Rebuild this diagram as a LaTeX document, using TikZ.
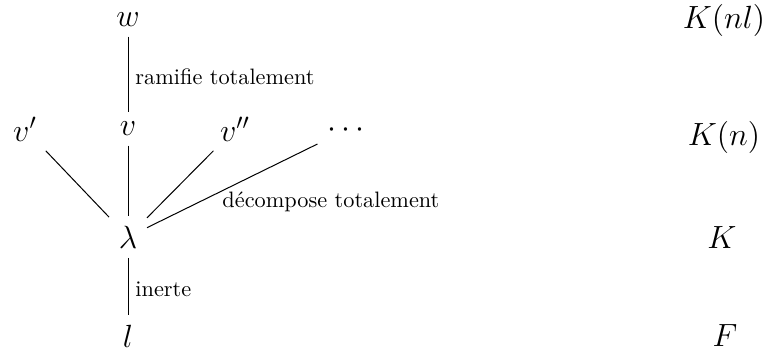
\documentclass[tikz,border=0pt]{standalone}
\begin{document}
\begin{tikzpicture}[x=0.4484pt,y=-0.4484pt,
  obj/.style={font=\Large,inner sep=4.2pt},
  lab/.style={font=\normalsize,inner sep=0pt,anchor=west},
  edge/.style={line width=0.45pt}]
\useasboundingbox (0,0) rectangle (764,351);
\node[obj] (w) at (128,20) {$w$};
\node[obj] (v1) at (25,129) {$v'$};
\node[obj] (v) at (128,129) {$v$};
\node[obj] (v2) at (235,129) {$v''$};
\node[obj] (dots) at (346,130) {$\cdots$};
\node[obj] (lam) at (128,237) {$\lambda$};
\node[obj] (l) at (128,336) {$l$};
\node[obj] (Knl) at (724,20) {$K(nl)$};
\node[obj] (Kn) at (724,137) {$K(n)$};
\node[obj] (K) at (722,238) {$K$};
\node[obj] (F) at (725,336) {$F$};
\draw[edge] (w) -- (v);
\draw[edge] (v) -- (lam);
\draw[edge] (v1) -- (lam);
\draw[edge] (v2) -- (lam);
\draw[edge] (dots) -- (lam);
\draw[edge] (lam) -- (l);
\node[lab] (r) at (135,77) {ramifie totalement};
\node[lab] (d) at (222,202) {décompose totalement};
\node[lab] (i) at (135,289) {inerte};
\end{tikzpicture}
\end{document}
